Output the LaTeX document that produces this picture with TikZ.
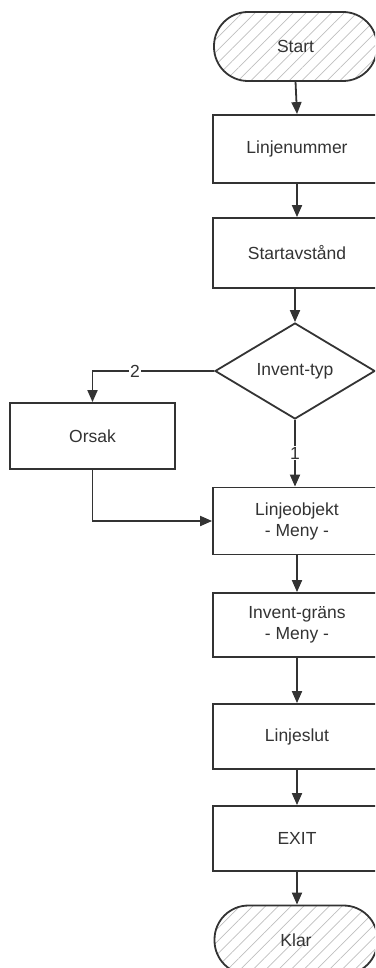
\documentclass[tikz,border=0pt]{standalone}
\usepackage{fontspec}
\setmainfont{Liberation Sans}
\usetikzlibrary{shapes.geometric,arrows.meta,patterns.meta}
\begin{document}
\begin{tikzpicture}[x=1pt,y=-1pt,
  font=\fontsize{17.5}{20}\selectfont,
  every node/.style={text=black!80},
  proc/.style={draw=black!80,line width=1.8pt,rectangle,minimum width=168pt,inner sep=0pt,align=center,fill=white},
  term/.style={draw=black!80,line width=1.8pt,rectangle,rounded corners=34pt,minimum width=163pt,minimum height=69pt,inner sep=0pt,
     pattern={Lines[angle=45,distance=9pt,line width=0.7pt]},pattern color=black!25},
  dec/.style={draw=black!80,line width=1.8pt,diamond,aspect=1.667,minimum width=160pt,minimum height=96pt,inner sep=0pt,fill=white},
  flow/.style={draw=black!80,line width=1.8pt,-{Triangle[width=10pt,length=12pt]}},
  lab/.style={fill=white,inner sep=1pt}]
\useasboundingbox (0,0) rectangle (375,968);
\clip (0,0) rectangle (375,968);
\node[term] (start) at (295.5,46.5) {Start};
\node[proc,minimum height=68pt] (num) at (297,149) {Linjenummer};
\node[proc,minimum height=70pt] (avst) at (297,253) {Startavstånd};
\node[dec] (typ) at (295,371) {Invent-typ};
\node[proc,minimum width=165pt,minimum height=66pt] (orsak) at (92.5,436) {Orsak};
\node[proc,minimum height=67pt] (obj) at (297,521) {Linjeobjekt\\[1pt]- Meny -};
\node[proc,minimum height=64pt] (grans) at (297,625) {Invent-gräns\\[1pt]- Meny -};
\node[proc,minimum height=65pt] (slut) at (297,736.5) {Linjeslut};
\node[proc,minimum height=65pt] (exit) at (297,838.5) {EXIT};
\node[term] (klar) at (296,940) {Klar};
\coordinate (c2) at (92.5,371);
\coordinate (c3) at (92.5,521);
\draw[flow] (start.south) -- (num.north);
\draw[flow] (num.south) -- (avst.north);
\draw[flow] (avst.south -| typ.north) -- (typ.north);
\draw[flow] (typ.west) -- (c2) -- (orsak.north);
\node[lab] (l2) at (135,371) {2};
\draw[flow] (typ.south) -- (obj.north -| typ.south);
\node[lab] (l1) at (295,453) {1};
\draw[flow] (orsak.south) -- (c3) -- (obj.west);
\draw[flow] (obj.south) -- (grans.north);
\draw[flow] (grans.south) -- (slut.north);
\draw[flow] (slut.south) -- (exit.north);
\draw[flow] (exit.south) -- (klar.north -| exit.south);
\end{tikzpicture}
\end{document}
